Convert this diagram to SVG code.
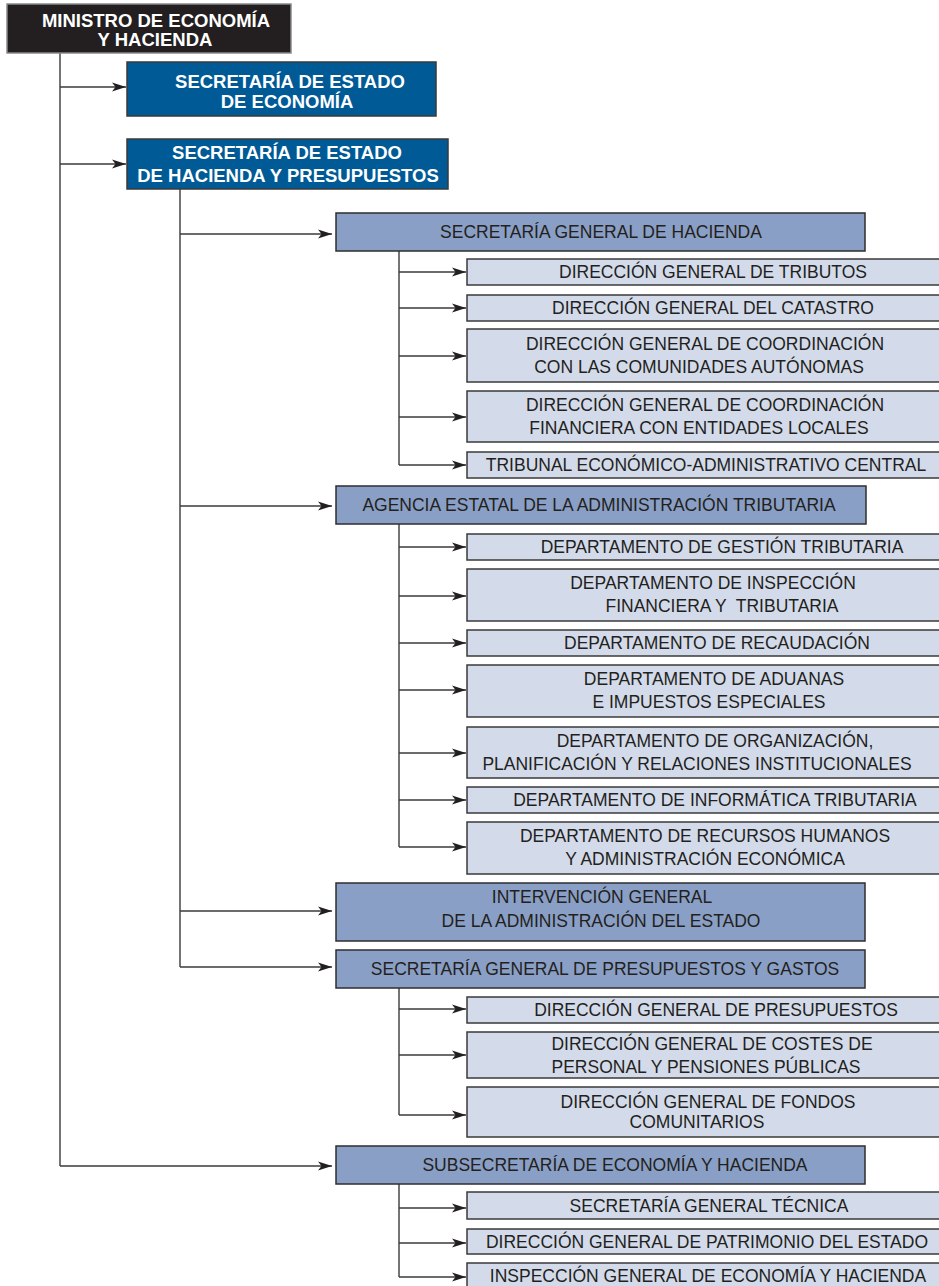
<svg xmlns="http://www.w3.org/2000/svg" width="939" height="1286" viewBox="0 0 939 1286">
<style>
.blk{fill:#231f20;stroke:#8a8a8a;stroke-width:1.5}
.blue{fill:#005a96;stroke:#3a3a3a;stroke-width:1.5}
.dark{fill:#8a9fc5;stroke:#2e2e2e;stroke-width:1.5}
.light{fill:#d3dbea;stroke:#3a3a3a;stroke-width:1.5}
.wt{font-family:"Liberation Sans",Arial,sans-serif;font-weight:bold;font-size:18.5px;fill:#ffffff;text-anchor:middle}
.t{font-family:"Liberation Sans",Arial,sans-serif;font-size:17.5px;fill:#231f20;text-anchor:middle}
.ln{fill:none;stroke:#3a3a3a;stroke-width:1.4}
</style>
<defs>
<marker id="ah" markerUnits="userSpaceOnUse" markerWidth="16" markerHeight="12" refX="15" refY="6" orient="auto">
<path d="M1,1.5 L15,6 L1,10.5 L4.5,6 Z" fill="#231f20"/>
</marker>
</defs>
<rect width="939" height="1286" fill="#ffffff"/>

<g id="connectors">
<path class="ln" d="M60,53 V1166"/>
<path class="ln" d="M180,189 V967"/>
<path class="ln" d="M399,251 V465"/>
<path class="ln" d="M399,524 V847"/>
<path class="ln" d="M399,988 V1115"/>
<path class="ln" d="M399,1184 V1277"/>
<g marker-end="url(#ah)">
<path class="ln" d="M60,87 H126"/>
<path class="ln" d="M60,164 H126"/>
<path class="ln" d="M180,234 H332"/>
<path class="ln" d="M180,506 H332"/>
<path class="ln" d="M180,911 H332"/>
<path class="ln" d="M180,967 H332"/>
<path class="ln" d="M60,1166 H332"/>
<path class="ln" d="M399,272 H466"/>
<path class="ln" d="M399,308 H466"/>
<path class="ln" d="M399,356 H466"/>
<path class="ln" d="M399,417 H466"/>
<path class="ln" d="M399,465 H466"/>
<path class="ln" d="M399,547 H466"/>
<path class="ln" d="M399,596 H466"/>
<path class="ln" d="M399,643 H466"/>
<path class="ln" d="M399,690 H466"/>
<path class="ln" d="M399,753 H466"/>
<path class="ln" d="M399,800 H466"/>
<path class="ln" d="M399,847 H466"/>
<path class="ln" d="M399,1009 H466"/>
<path class="ln" d="M399,1055 H466"/>
<path class="ln" d="M399,1115 H466"/>
<path class="ln" d="M399,1208 H466"/>
<path class="ln" d="M399,1243 H466"/>
<path class="ln" d="M399,1277 H466"/>
</g>
</g>

<g id="ministro"><rect class="blk" x="7" y="4" width="284" height="49"/>
<text class="wt" x="156" y="27">MINISTRO DE ECONOMÍA</text><text class="wt" x="155" y="46">Y HACIENDA</text></g>

<g id="se-economia"><rect class="blue" x="127" y="62" width="309" height="54"/>
<text class="wt" x="290" y="88">SECRETARÍA DE ESTADO</text><text class="wt" x="287" y="108">DE ECONOMÍA</text></g>

<g id="se-hacienda"><rect class="blue" x="127" y="139" width="321" height="50"/>
<text class="wt" x="287" y="159">SECRETARÍA DE ESTADO</text><text class="wt" x="288" y="182">DE HACIENDA Y PRESUPUESTOS</text></g>

<g id="sg-hacienda"><rect class="dark" x="336" y="213" width="529" height="38"/>
<text class="t" x="601" y="238.3">SECRETARÍA GENERAL DE HACIENDA</text></g>

<g id="dg-tributos"><rect class="light" x="467" y="259" width="490" height="26"/>
<text class="t" x="713" y="278.3">DIRECCIÓN GENERAL DE TRIBUTOS</text></g>

<g id="dg-catastro"><rect class="light" x="467" y="295" width="490" height="26"/>
<text class="t" x="713" y="314.3">DIRECCIÓN GENERAL DEL CATASTRO</text></g>

<g id="dg-ccaa"><rect class="light" x="467" y="329" width="490" height="53"/>
<text class="t" x="705" y="350.3">DIRECCIÓN GENERAL DE COORDINACIÓN</text><text class="t" x="699" y="373.3">CON LAS COMUNIDADES AUTÓNOMAS</text></g>

<g id="dg-eell"><rect class="light" x="467" y="391" width="490" height="51"/>
<text class="t" x="705" y="411.3">DIRECCIÓN GENERAL DE COORDINACIÓN</text><text class="t" x="699" y="434.3">FINANCIERA CON ENTIDADES LOCALES</text></g>

<g id="tribunal"><rect class="light" x="467" y="452" width="490" height="26"/>
<text class="t" x="706" y="471.3">TRIBUNAL ECONÓMICO-ADMINISTRATIVO CENTRAL</text></g>

<g id="aeat"><rect class="dark" x="336" y="486" width="530" height="38"/>
<text class="t" x="599" y="511.3">AGENCIA ESTATAL DE LA ADMINISTRACIÓN TRIBUTARIA</text></g>

<g id="dep-gestion"><rect class="light" x="467" y="534" width="490" height="26"/>
<text class="t" x="722" y="553.3">DEPARTAMENTO DE GESTIÓN TRIBUTARIA</text></g>

<g id="dep-inspeccion"><rect class="light" x="467" y="569" width="490" height="52"/>
<text class="t" x="713" y="589.3">DEPARTAMENTO DE INSPECCIÓN</text><text class="t" x="722" y="612.3" xml:space="preserve">FINANCIERA Y  TRIBUTARIA</text></g>

<g id="dep-recaudacion"><rect class="light" x="467" y="630" width="490" height="26"/>
<text class="t" x="717" y="649.3">DEPARTAMENTO DE RECAUDACIÓN</text></g>

<g id="dep-aduanas"><rect class="light" x="467" y="665" width="490" height="52"/>
<text class="t" x="714" y="685.3">DEPARTAMENTO DE ADUANAS</text><text class="t" x="709" y="708.3">E IMPUESTOS ESPECIALES</text></g>

<g id="dep-organizacion"><rect class="light" x="467" y="727" width="490" height="51"/>
<text class="t" x="715" y="747.3">DEPARTAMENTO DE ORGANIZACIÓN,</text><text class="t" x="697" y="770.3">PLANIFICACIÓN Y RELACIONES INSTITUCIONALES</text></g>

<g id="dep-informatica"><rect class="light" x="467" y="787" width="490" height="26"/>
<text class="t" x="715" y="806.3">DEPARTAMENTO DE INFORMÁTICA TRIBUTARIA</text></g>

<g id="dep-rrhh"><rect class="light" x="467" y="822" width="490" height="52"/>
<text class="t" x="705" y="842.3">DEPARTAMENTO DE RECURSOS HUMANOS</text><text class="t" x="705" y="865.3">Y ADMINISTRACIÓN ECONÓMICA</text></g>

<g id="intervencion"><rect class="dark" x="336" y="883" width="529" height="58"/>
<text class="t" x="602" y="903.3">INTERVENCIÓN GENERAL</text><text class="t" x="601" y="927.3">DE LA ADMINISTRACIÓN DEL ESTADO</text></g>

<g id="sg-presupuestos"><rect class="dark" x="336" y="950" width="529" height="38"/>
<text class="t" x="605" y="975.3">SECRETARÍA GENERAL DE PRESUPUESTOS Y GASTOS</text></g>

<g id="dg-presupuestos"><rect class="light" x="467" y="997" width="490" height="26"/>
<text class="t" x="716" y="1016.3">DIRECCIÓN GENERAL DE PRESUPUESTOS</text></g>

<g id="dg-costes"><rect class="light" x="467" y="1032" width="490" height="46"/>
<text class="t" x="712" y="1050.3">DIRECCIÓN GENERAL DE COSTES DE</text><text class="t" x="706" y="1073.3">PERSONAL Y PENSIONES PÚBLICAS</text></g>

<g id="dg-fondos"><rect class="light" x="467" y="1087" width="490" height="50"/>
<text class="t" x="708" y="1108.3">DIRECCIÓN GENERAL DE FONDOS</text><text class="t" x="697" y="1128.3">COMUNITARIOS</text></g>

<g id="subsecretaria"><rect class="dark" x="336" y="1146" width="529" height="38"/>
<text class="t" x="615" y="1171.3">SUBSECRETARÍA DE ECONOMÍA Y HACIENDA</text></g>

<g id="sg-tecnica"><rect class="light" x="467" y="1192" width="490" height="27"/>
<text class="t" x="709" y="1212.3">SECRETARÍA GENERAL TÉCNICA</text></g>

<g id="dg-patrimonio"><rect class="light" x="467" y="1229" width="490" height="25"/>
<text class="t" x="707" y="1247.8">DIRECCIÓN GENERAL DE PATRIMONIO DEL ESTADO</text></g>

<g id="inspeccion-general"><rect class="light" x="467" y="1263" width="490" height="40"/>
<text class="t" x="708" y="1282.3">INSPECCIÓN GENERAL DE ECONOMÍA Y HACIENDA</text></g>
</svg>
